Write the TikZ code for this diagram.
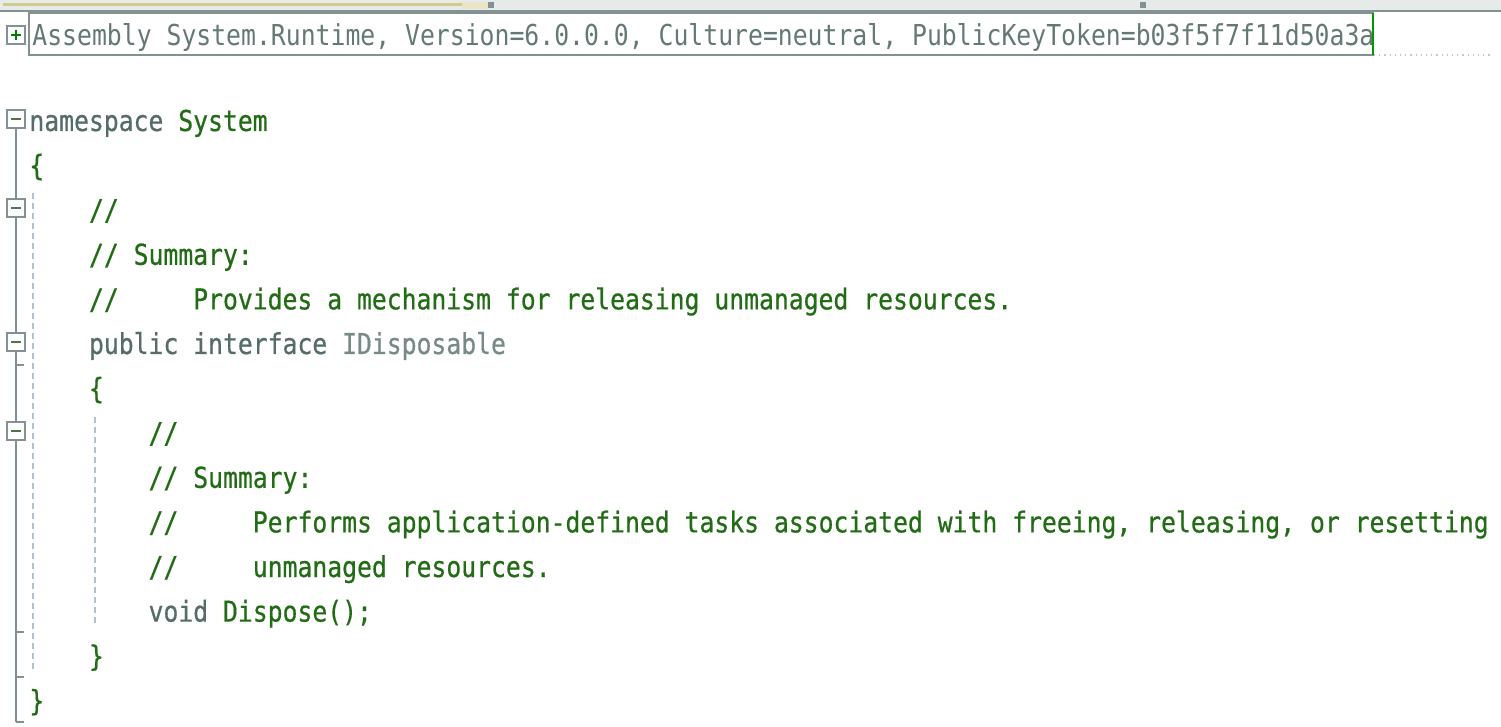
\documentclass[tikz,border=0pt]{standalone}
\usepackage{fontspec}
\newfontfamily\codefont[FakeStretch=0.86,FakeBold=0.6]{DejaVu Sans Mono}
\newfontfamily\metafont[FakeStretch=0.86]{DejaVu Sans Mono}
\usetikzlibrary{positioning,calc}
\definecolor{keyword}{RGB}{86,108,104}
\definecolor{typename}{RGB}{120,138,136}
\definecolor{comment}{RGB}{34,108,22}
\definecolor{metatext}{RGB}{100,120,118}
\definecolor{guttercol}{RGB}{130,146,146}
\definecolor{guidecol}{RGB}{176,194,204}
\definecolor{khaki}{RGB}{210,202,138}
\definecolor{bandcol}{RGB}{230,234,232}
\tikzset{
  code/.style={anchor=base west, inner sep=0pt, text=comment, font=\codefont\fontsize{14.38}{16}\selectfont\frenchspacing},
  meta/.style={code, text=metatext, font=\metafont\fontsize{14.4}{16}\selectfont\frenchspacing},
  fold/.style={rectangle, draw=guttercol, fill=white, line width=0.7pt, minimum size=9pt, inner sep=0pt},
  foldminus/.style={fold, path picture={\draw[black!60!green!40!gray, line width=0.9pt] ([xshift=-2.3pt]path picture bounding box.center) -- ([xshift=2.3pt]path picture bounding box.center);}},
  foldplus/.style={fold, path picture={\draw[black!50!green, line width=0.9pt] ([xshift=-2.3pt]path picture bounding box.center) -- ([xshift=2.3pt]path picture bounding box.center) ([yshift=-2.3pt]path picture bounding box.center) -- ([yshift=2.3pt]path picture bounding box.center);}},
  outline/.style={draw=guttercol, line width=0.6pt},
  guide/.style={draw=guidecol, line width=0.9pt, dash pattern=on 3pt off 2pt}
}

\begin{document}
\begin{tikzpicture}[x=0.5pt, y=-0.5pt]
  \useasboundingbox (0,0) rectangle (1501,727);
  % editor top bar
  \fill[bandcol] (0,0) rectangle (1501,10);
  \draw[khaki, line width=1.5pt] (3,5) -- (462,5);
  \fill[khaki!50] (462,2) rectangle (488,9);
  \fill[guttercol] (488,2) rectangle (494,8);
  \fill[guttercol] (1140,2) rectangle (1146,8);
  \draw[guttercol, line width=1pt] (0,11) -- (1501,11);

  % assembly header
  \draw[guttercol, line width=1pt] (29,13) rectangle (1373,55);
  \draw[black!40!green, line width=1pt] (1373,13) -- (1373,55);
  \draw[guttercol!50, dotted, line width=0.6pt] (1374,55) -- (1490,55);
  \node[meta] (Assembly) at (32,46) {Assembly System.Runtime, Version=6.0.0.0, Culture=neutral, PublicKeyToken=b03f5f7f11d50a3a};

  % code lines
  \node[code] (Namespace) at (29,131) {\textcolor{keyword}{namespace} System};
  \node[code] (NsOpen) at (29,175.6) {\{};
  \node[code] (SumA) at (88.6,220.2) {//};
  \node[code] (SumAHead) at (88.6,264.8) {// Summary:};
  \node[code] (SumAText) at (88.6,309.4) {//~~~~~Provides a mechanism for releasing unmanaged resources.};
  \node[code] (Iface) at (88.6,354) {\textcolor{keyword}{public interface} \textcolor{typename}{IDisposable}};
  \node[code] (IfaceOpen) at (88.6,398.6) {\{};
  \node[code] (SumB) at (148.2,443.2) {//};
  \node[code] (SumBHead) at (148.2,487.8) {// Summary:};
  \node[code] (SumBText) at (148.2,532.4) {//~~~~~Performs application-defined tasks associated with freeing, releasing, or resetting};
  \node[code] (SumBMore) at (148.2,577) {//~~~~~unmanaged resources.};
  \node[code] (Dispose) at (148.2,621.6) {\textcolor{keyword}{void} Dispose();};
  \node[code] (IfaceClose) at (88.6,666.2) {\}};
  \node[code] (NsClose) at (29,710.8) {\}};

  % outlining margin
  \node[foldplus] (FoldAsm) at (16,35) {};
  \node[foldminus] (FoldNs) at (16,119) {};
  \node[foldminus] (FoldSumA) at (16,208) {};
  \node[foldminus] (FoldIface) at (16,342) {};
  \node[foldminus] (FoldSumB) at (16,431) {};
  \coordinate (TickA) at (16,365);
  \coordinate (TickB) at (16,632);
  \coordinate (TickC) at (16,677);
  \coordinate (TickD) at (16,722);
  \path[outline] (FoldNs) -- (FoldSumA);
  \path[outline] (FoldSumA) -- (FoldIface);
  \path[outline] (FoldIface) -- (TickA) -- (FoldSumB);
  \path[outline] (FoldSumB) -- (TickB) -- (TickC) -- (TickD);
  \foreach \t in {TickA,TickB,TickC,TickD}
    \path[outline] (\t) -- ++(8,0);

  % indent guides
  \coordinate (GuideATop) at (33,193);
  \coordinate (GuideABot) at (33,672);
  \coordinate (GuideBTop) at (95,417);
  \coordinate (GuideBBot) at (95,626);
  \path[guide] (GuideATop) -- (GuideABot);
  \path[guide] (GuideBTop) -- (GuideBBot);
\end{tikzpicture}
\end{document}
